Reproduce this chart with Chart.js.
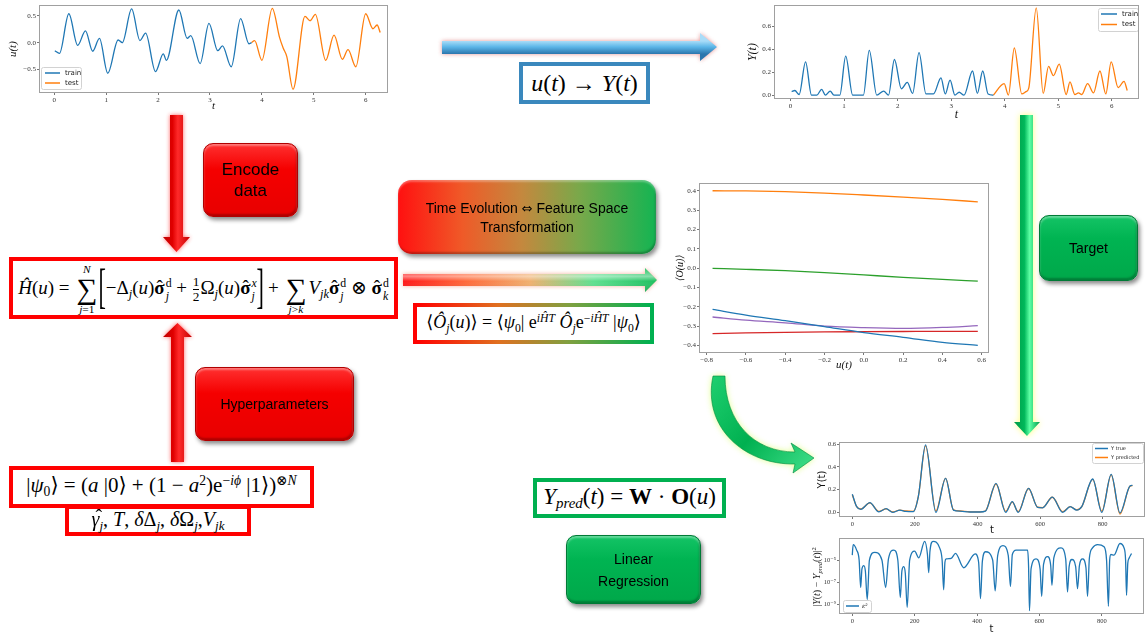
<!DOCTYPE html>
<html><head><meta charset="utf-8">
<script src="https://cdn.jsdelivr.net/npm/chart.js@4.4.1/dist/chart.umd.min.js"></script>
<style>
body{margin:0;width:1146px;height:637px;overflow:hidden;background:#fff;position:relative;font-family:'Liberation Sans',Arial,sans-serif}
.cv{position:absolute;left:0;top:0}
.abs{position:absolute;box-sizing:border-box}
.fbox{display:flex;align-items:center;justify-content:center;background:#fff}
.math{font-family:'Liberation Serif','DejaVu Serif',serif;color:#000;white-space:nowrap;line-height:1}
.s{font-size:0.65em;vertical-align:-0.3em}
sup{font-size:0.65em;vertical-align:0.55em;line-height:0}
sub{font-size:0.65em;vertical-align:-0.3em;line-height:0}
.ss{display:inline-flex;flex-direction:column;font-size:0.62em;line-height:1.1;vertical-align:0.62em;margin-left:1px}
.bop{display:inline-flex;flex-direction:column;align-items:center;vertical-align:middle;line-height:1;margin:0 2px}
.bop .lim{font-size:0.6em}
.bop .sig{font-size:1.55em;line-height:0.95}
.brk{font-size:2.6em;display:inline-block;transform:scaleX(0.45);vertical-align:-0.16em;line-height:1;margin:0 -5px}
.frac{display:inline-flex;flex-direction:column;align-items:center;font-size:0.7em;line-height:1.05;vertical-align:middle;margin:0 1px}
.frac .den{border-top:1px solid #000}
.hat{position:relative;display:inline-block}
.hat::after{content:'ˆ';position:absolute;left:0.12em;top:-0.08em;font-weight:normal;font-style:normal}
.hat.it::after{left:0.2em}
.btn{border-radius:10px;display:flex;align-items:center;justify-content:center;text-align:center;color:#000;font-family:'Liberation Sans',Arial,sans-serif}
.red{background:linear-gradient(#ff3030,#f50000 35%,#e80000);border:1px solid #b00000;box-shadow:2px 3px 4px rgba(0,0,0,.45),inset 0 2px 2px rgba(255,255,255,.35),inset -1px -2px 2px rgba(0,0,0,.25)}
.grn{background:linear-gradient(#14c466,#00b452 35%,#00a84a);border:1px solid #007a36;box-shadow:2px 3px 4px rgba(0,0,0,.45),inset 0 2px 2px rgba(255,255,255,.35),inset -1px -2px 2px rgba(0,0,0,.25)}
</style></head>
<body>
<canvas id="c1" class="cv" width="1146" height="637"></canvas>
<canvas id="c2" class="cv" width="1146" height="637"></canvas>
<canvas id="c3" class="cv" width="1146" height="637"></canvas>
<canvas id="c4" class="cv" width="1146" height="637"></canvas>
<canvas id="c5" class="cv" width="1146" height="637"></canvas>

<svg class="abs" width="1146" height="637" style="left:0;top:0">
<defs>
 <filter id="blur2" x="-50%" y="-50%" width="200%" height="200%"><feGaussianBlur stdDeviation="2.2"/></filter>
 <filter id="blur3" x="-50%" y="-50%" width="200%" height="200%"><feGaussianBlur stdDeviation="3"/></filter>
 <linearGradient id="gRedD" gradientUnits="userSpaceOnUse" x1="163" y1="0" x2="190" y2="0"><stop offset="0" stop-color="#c00000"/><stop offset="0.35" stop-color="#e00000"/><stop offset="0.55" stop-color="#ff2a2a"/><stop offset="1" stop-color="#c40000"/></linearGradient>
 <linearGradient id="gRedU" gradientUnits="userSpaceOnUse" x1="163" y1="0" x2="192" y2="0"><stop offset="0" stop-color="#c00000"/><stop offset="0.35" stop-color="#e00000"/><stop offset="0.55" stop-color="#ff2a2a"/><stop offset="1" stop-color="#c40000"/></linearGradient>
 <linearGradient id="gBlue" gradientUnits="userSpaceOnUse" x1="0" y1="41" x2="0" y2="54"><stop offset="0" stop-color="#a9dcf8"/><stop offset="0.45" stop-color="#5cb6e8"/><stop offset="1" stop-color="#2c76ad"/></linearGradient>
 <linearGradient id="gRG" gradientUnits="userSpaceOnUse" x1="403" y1="0" x2="657" y2="0"><stop offset="0" stop-color="#ff1a1a"/><stop offset="0.25" stop-color="#ff6a3a"/><stop offset="0.5" stop-color="#f0b070"/><stop offset="0.75" stop-color="#60e090"/><stop offset="1" stop-color="#20c060"/></linearGradient>
 <linearGradient id="gHi" gradientUnits="userSpaceOnUse" x1="0" y1="268" x2="0" y2="292"><stop offset="0" stop-color="#fff" stop-opacity="0"/><stop offset="0.35" stop-color="#fff" stop-opacity="0.45"/><stop offset="0.55" stop-color="#fff" stop-opacity="0"/><stop offset="1" stop-color="#000" stop-opacity="0.15"/></linearGradient>
 <linearGradient id="gGrn" gradientUnits="userSpaceOnUse" x1="1014" y1="0" x2="1040" y2="0"><stop offset="0" stop-color="#009a48"/><stop offset="0.4" stop-color="#00b85a"/><stop offset="0.6" stop-color="#5dffa4"/><stop offset="1" stop-color="#00a04c"/></linearGradient>
 <linearGradient id="gCurve" gradientUnits="userSpaceOnUse" x1="705" y1="380" x2="815" y2="470"><stop offset="0" stop-color="#20d070"/><stop offset="0.5" stop-color="#00b050"/><stop offset="1" stop-color="#40e08a"/></linearGradient>
</defs>
<polygon points="170,115 183,115 183,237 190,237 176.5,252 163,237 170,237" fill="#ff3030" opacity="0.75" filter="url(#blur2)"/>
<polygon points="170,115 183,115 183,237 190,237 176.5,252 163,237 170,237" fill="url(#gRedD)"/>
<polygon points="177.5,323 192,337 184,337 184,462 171,462 171,337 163,337" fill="#ff3030" opacity="0.75" filter="url(#blur2)"/>
<polygon points="177.5,323 192,337 184,337 184,462 171,462 171,337 163,337" fill="url(#gRedU)"/>
<polygon points="442,41 700,41 700,33 717,47 700,61 700,54 442,54" fill="#e07a7a" opacity="0.8" filter="url(#blur2)"/>
<polygon points="442,41 700,41 700,33 717,47 700,61 700,54 442,54" fill="url(#gBlue)"/>
<polygon points="403,274 645,274 645,268 657,280 645,292 645,286 403,286" fill="#f08060" opacity="0.6" filter="url(#blur2)"/>
<polygon points="403,274 645,274 645,268 657,280 645,292 645,286 403,286" fill="url(#gRG)"/>
<polygon points="403,274 645,274 645,268 657,280 645,292 645,286 403,286" fill="url(#gHi)"/>
<polygon points="1020,115 1033,115 1033,422 1040,422 1027,436 1014,422 1020,422" fill="#ffff70" opacity="0.9" filter="url(#blur3)"/>
<polygon points="1020,115 1033,115 1033,422 1040,422 1027,436 1014,422 1020,422" fill="url(#gGrn)"/>
<path d="M713,376 C702,428 745,465 795,464 L793,473 L814,458 L791,443 L795,452 C754,452 725,422 725,376 Z" fill="#d8ff70" opacity="0.85" filter="url(#blur3)"/>
<path d="M713,376 C702,428 745,465 795,464 L793,473 L814,458 L791,443 L795,452 C754,452 725,422 725,376 Z" fill="url(#gCurve)" stroke="#008a40" stroke-width="0.6"/>
</svg>

<div class="abs fbox" style="left:519px;top:62px;width:131px;height:42px;border:4px solid #3a88bd">
 <span class="math" style="font-size:24px"><i>u</i>(<i>t</i>) → <i>Y</i>(<i>t</i>)</span>
</div>
<div class="abs fbox" style="left:9px;top:257px;width:389px;height:62px;border:4px solid #ff0000">
 <span class="math" style="font-size:19px"><i>Ĥ</i>(<i>u</i>) = <span class="bop"><span class="lim"><i>N</i></span><span class="sig">∑</span><span class="lim"><i>j</i>=1</span></span><span class="brk">[</span>−Δ<i class="s">j</i>(<i>u</i>)<b class="hat">σ</b><span class="ss"><span>d</span><i>j</i></span> + <span class="frac"><span>1</span><span class="den">2</span></span>Ω<i class="s">j</i>(<i>u</i>)<b class="hat">σ</b><span class="ss"><i>x</i><i>j</i></span><span class="brk">]</span> + <span class="bop"><span class="lim">&#8203;</span><span class="sig">∑</span><span class="lim"><i>j</i>&gt;<i>k</i></span></span><i>V</i><i class="s">jk</i><b class="hat">σ</b><span class="ss"><span>d</span><i>j</i></span> ⊗ <b class="hat">σ</b><span class="ss"><span>d</span><i>k</i></span></span>
</div>
<div class="abs fbox" style="left:9px;top:466px;width:305px;height:42px;border:4px solid #ff0000">
 <span class="math" style="font-size:21px">|<i>ψ</i><span class="s">0</span>⟩ = (<i>a</i> |0⟩ + (1 − <i>a</i><sup>2</sup>)e<sup>−<i>iϕ</i></sup> |1⟩)<sup>⊗<i>N</i></sup></span>
</div>
<div class="abs fbox" style="left:65px;top:505px;width:186px;height:31px;border:4px solid #ff0000">
 <span class="math" style="font-size:20px"><i class="hat it">γ</i><i class="s">j</i>, <i>T</i>, <i>δ</i>Δ<i class="s">j</i>, <i>δ</i>Ω<i class="s">j</i>,<i>V</i><i class="s">jk</i></span>
</div>
<div class="abs fbox" style="left:413px;top:303px;width:241px;height:41px;border:4px solid;border-image:linear-gradient(to right,#ff0000,#e07020 35%,#80a040 65%,#00b050) 1">
 <span class="math" style="font-size:18px">⟨<i>Ô</i><i class="s">j</i>(<i>u</i>)⟩ = ⟨<i>ψ</i><span class="s">0</span>| e<sup><i>iĤT</i></sup> <i>Ô</i><i class="s">j</i>e<sup>−<i>iĤT</i></sup> |<i>ψ</i><span class="s">0</span>⟩</span>
</div>
<div class="abs fbox" style="left:533px;top:478px;width:193px;height:40px;border:4px solid #00b050">
 <span class="math" style="font-size:23px"><i>Y</i><i class="s">pred</i>(<i>t</i>) = <b>W</b> · <b>O</b>(<i>u</i>)</span>
</div>

<div class="abs btn red" style="left:203px;top:143px;width:95px;height:74px;font-size:17px;line-height:21px"><div>Encode<br>data</div></div>
<div class="abs btn red" style="left:195px;top:367px;width:159px;height:74px;font-size:14px"><div>Hyperparameters</div></div>
<div class="abs btn" style="left:398px;top:180px;width:258px;height:74px;font-size:14px;line-height:18px;border-radius:14px;background:linear-gradient(to right,#ff1010,#ef5a28 25%,#c4883e 48%,#7aa84a 70%,#14b452);box-shadow:2px 3px 4px rgba(0,0,0,.45),inset 0 2px 2px rgba(255,255,255,.3),inset -1px -2px 2px rgba(0,0,0,.25)"><div>Time Evolution <span style="font-family:'DejaVu Sans';font-size:13px">⇔</span> Feature Space<br>Transformation</div></div>
<div class="abs btn grn" style="left:1039px;top:215px;width:99px;height:66px;font-size:14px"><div>Target</div></div>
<div class="abs btn grn" style="left:566px;top:535px;width:135px;height:69px;font-size:14px;line-height:22px"><div>Linear<br>Regression</div></div>

<div class="abs math" style="left:817px;top:577px;transform:translate(-50%,-50%) rotate(-90deg);font-size:10px;color:#222">|<i>Y</i>(<i>t</i>) − <i>Y</i><sub><i>pred</i></sub>(<i>t</i>)|<sup>2</sup></div>

<script>
// ---------------- DATA ----------------
// Chart 1: input u(t)
const uTrainT = [0.01,0.1,0.28,0.45,0.6,0.74,0.87,1.03,1.23,1.31,1.49,1.65,1.76,1.95,2.1,2.16,2.4,2.56,2.63,2.81,2.98,3.15,3.24,3.41,3.59,3.75,3.8];
const uTrainV = [-0.15,-0.2,0.54,-0.05,0.22,-0.16,0.08,-0.57,0.05,0.0,0.63,0.04,0.18,-0.54,-0.21,-0.33,0.61,0.08,0.13,-0.39,0.36,-0.15,-0.06,-0.45,0.45,-0.02,0.0];
const uTestT = [3.8,3.86,4.0,4.2,4.34,4.41,4.48,4.6,4.83,4.93,5.03,5.23,5.39,5.55,5.66,5.81,6.0,6.14,6.22,6.28];
const uTestV = [0.0,0.04,-0.33,0.64,0.1,-0.1,-0.26,-0.87,0.49,0.41,0.53,-0.33,0.14,-0.31,-0.13,-0.45,0.54,0.26,0.33,0.19];
const c1XTicks = [0,1,2,3,4,5,6];
const c1XLabels = ['0','1','2','3','4','5','6'];
const c1YTicks = [-0.5,0,0.5];
const c1YLabels = ['−0.5','0.0','0.5'];

// Chart 2: target Y(t)
const yTrainT = [0.02,0.08,0.16,0.28,0.39,0.49,0.58,0.65,0.74,0.81,0.92,1.03,1.16,1.36,1.47,1.61,1.74,1.83,1.94,2.07,2.18,2.28,2.4,2.53,2.67,2.81,2.89,2.98,3.07,3.15,3.24,3.4,3.49,3.59,3.69,3.79];
const yTrainV = [0.03,0.04,0.005,0.29,0,0,0.05,0,0.035,0,0,0.34,0,0,0.39,0,0.035,0,0.31,0.055,0.11,0.015,0.37,0.01,0.01,0.15,0.01,0.13,0,0.025,0,0.21,0.015,0.21,0.01,0];
const yTestT = [3.79,3.99,4.07,4.18,4.32,4.4,4.45,4.59,4.72,4.82,4.91,5.02,5.15,5.22,5.31,5.38,5.44,5.55,5.66,5.78,5.89,5.99,6.12,6.23,6.29];
const yTestV = [0,0.1,0,0.41,0.01,0.03,0.06,0.76,0.015,0.25,0.17,0.27,0.005,0.115,0.005,0.02,0.005,0.1,0.02,0.21,0.01,0.29,0.065,0.12,0.04];
const c2XTicks = [0,1,2,3,4,5,6];
const c2XLabels = ['0','1','2','3','4','5','6'];
const c2YTicks = [0,0.2,0.4,0.6];
const c2YLabels = ['0.0','0.2','0.4','0.6'];

// Chart 3: observables vs u
const obsU = [-0.77,-0.6,-0.4,-0.2,0,0.2,0.4,0.58];
const obs1 = [-0.213,-0.242,-0.271,-0.302,-0.333,-0.357,-0.383,-0.399];
const obs2 = [0.400,0.399,0.395,0.388,0.378,0.367,0.355,0.343];
const obs3 = [-0.001,-0.006,-0.013,-0.023,-0.035,-0.047,-0.058,-0.067];
const obs4 = [-0.338,-0.334,-0.331,-0.329,-0.328,-0.327,-0.326,-0.326];
const obs5 = [-0.252,-0.268,-0.282,-0.299,-0.307,-0.311,-0.306,-0.297];
const c3XTicks = [-0.8,-0.6,-0.4,-0.2,0,0.2,0.4,0.6];
const c3XLabels = ['−0.8','−0.6','−0.4','−0.2','0.0','0.2','0.4','0.6'];
const c3YTicks = [-0.4,-0.3,-0.2,-0.1,0,0.1,0.2,0.3,0.4];
const c3YLabels = ['−0.4','−0.3','−0.2','−0.1','0.0','0.1','0.2','0.3','0.4'];

// Chart 4: prediction
const predT = [0,14,27,56,85,108,129,152,171,195,211,234,267,298,323,344,376,408,425,459,490,511,530,563,592,608,639,672,696,717,733,768,797,827,855,887,895];
const yTrue = [0.16,0.05,0.027,0.085,0.004,0.032,0.0,0.02,0.008,0.006,0.14,0.594,0.0,0.30,0.02,0.01,0.003,0.003,0.01,0.256,0.0,0.094,0.0,0.212,0.044,0.04,0.135,0.0,0.05,0.02,0.05,0.294,0.0,0.335,-0.005,0.232,0.238];
const yPred = [0.155,0.05,0.03,0.083,0.008,0.03,0.004,0.02,0.012,0.008,0.14,0.585,0.012,0.30,0.022,0.012,0.005,0.005,0.012,0.25,0.008,0.09,0.006,0.21,0.045,0.042,0.133,0.006,0.05,0.022,0.05,0.29,0.01,0.33,-0.015,0.23,0.235];
const c4XTicks = [0,200,400,600,800];
const c4XLabels = ['0','200','400','600','800'];
const c4YTicks = [0,0.2,0.4,0.6];
const c4YLabels = ['0.0','0.2','0.4','0.6'];

// Chart 5: squared error, stored as log10 of the value
const errT = [0,3,14,22,27,31,37,42,48,55,72,95,107,116,133,146,154,159,165,170,176,184,200,213,232,241,245,249,259,280,288,293,297,301,317,331,357,394,405,411,417,427,450,458,466,483,500,507,513,525,562,565,568,573,589,602,607,613,626,636,640,646,669,684,690,695,704,716,722,728,738,749,754,760,770,786,807,815,821,825,829,839,858,871,876,879,883,887,895];
const errLog = [-4.55,-3.6,-4.1,-5.0,-7.5,-5.8,-5.5,-6.0,-8.6,-5.0,-4.3,-5.0,-7.5,-4.9,-4.1,-5.0,-8.4,-6.0,-5.6,-6.2,-9.3,-5.0,-4.2,-4.8,-3.3,-4.5,-6.15,-4.2,-3.3,-3.9,-5.0,-7.7,-5.2,-4.9,-4.85,-4.4,-5.7,-4.45,-5.2,-8.5,-5.1,-4.25,-5.0,-7.8,-4.6,-3.7,-4.6,-7.4,-4.5,-4.1,-4.1,-5.5,-9.6,-5.8,-4.9,-5.8,-8.3,-5.4,-4.7,-5.5,-7.3,-4.8,-3.9,-4.9,-7.9,-5.6,-4.95,-5.6,-7.6,-5.5,-4.9,-5.7,-8.3,-4.8,-3.9,-3.6,-3.8,-5.0,-9.2,-5.0,-4.5,-4.55,-3.5,-3.9,-5.0,-8.2,-5.3,-4.85,-4.4];
const c5XTicks = [0,200,400,600,800];
const c5XLabels = ['0','200','400','600','800'];
const c5YTicks = [-9,-7,-5];
const c5YLabels = ['10⁻⁹','10⁻⁷','10⁻⁵'];

// ---------------- CHART HELPERS ----------------
const W = 1146, H = 637;
const C = {blue:'#1f77b4', orange:'#ff7f0e', green:'#2ca02c', red:'#d62728', purple:'#9467bd'};
const pts = (xs, ys) => xs.map((x, i) => ({x, y: ys[i]}));
const line = (label, xs, ys, color) => ({label, data: pts(xs, ys), borderColor: color, backgroundColor: color, borderWidth: 1.3, pointRadius: 0, cubicInterpolationMode: 'monotone', fill: false});

const framePlugin = {
  id: 'frame',
  afterDraw(chart) {
    const {ctx, chartArea: a} = chart;
    ctx.save(); ctx.strokeStyle = '#a0a0a0'; ctx.lineWidth = 1;
    ctx.strokeRect(Math.round(a.left) + 0.5, Math.round(a.top) + 0.5, Math.round(a.right - a.left) - 1, Math.round(a.bottom - a.top) - 1);
    ctx.restore();
  }
};
const mplLegend = {
  id: 'mplLegend',
  afterDraw(chart, args, o) {
    if (!o || !o.box) return;
    const ctx = chart.ctx; const [x, y, w, h] = o.box;
    ctx.save();
    ctx.fillStyle = 'rgba(255,255,255,0.85)'; ctx.strokeStyle = '#d2d2d2'; ctx.lineWidth = 1;
    ctx.beginPath(); if (ctx.roundRect) ctx.roundRect(x + 0.5, y + 0.5, w, h, 2); else ctx.rect(x + 0.5, y + 0.5, w, h);
    ctx.fill(); ctx.stroke();
    chart.data.datasets.forEach((ds, i) => {
      const ry = y + o.rows[i];
      ctx.strokeStyle = ds.borderColor; ctx.lineWidth = 1.5;
      ctx.beginPath(); ctx.moveTo(x + o.line[0], ry); ctx.lineTo(x + o.line[1], ry); ctx.stroke();
      ctx.fillStyle = '#222'; ctx.font = o.font; ctx.textBaseline = 'middle'; ctx.textAlign = 'left';
      ctx.fillText(ds.label, x + o.textX, ry);
    });
    ctx.restore();
  }
};
Chart.register(mplLegend);

function axis(range, ticks, labels, fitFn, tickFont, title) {
  return {
    type: 'linear', min: range[0], max: range[1],
    afterFit: fitFn,
    afterBuildTicks: s => { s.ticks = ticks.map(v => ({value: v})); },
    ticks: {callback: (v, i) => labels[i], font: tickFont, color: '#333', padding: 1, maxRotation: 0, autoSkip: false},
    grid: {display: true, drawOnChartArea: false, drawTicks: true, tickLength: 2, color: '#777'},
    border: {display: false},
    title: Object.assign({display: true, color: '#111', padding: 0}, title)
  };
}
function makeChart(id, c) {
  return new Chart(document.getElementById(id), {
    type: 'line',
    data: {datasets: c.datasets},
    options: {
      responsive: false, animation: false, events: [],
      layout: {padding: {left: c.plot.l - c.yw, top: c.plot.t, right: W - c.plot.r, bottom: H - c.plot.b - c.xh}},
      plugins: {legend: {display: false}, tooltip: {enabled: false}, mplLegend: c.legend || {}},
      scales: {
        x: axis(c.xr, c.xTicks, c.xLabels, s => { s.height = c.xh; }, c.tickFont, c.xTitle),
        y: axis(c.yr, c.yTicks, c.yLabels, s => { s.width = c.yw; }, c.tickFont, c.yTitle)
      }
    },
    plugins: [framePlugin]
  });
}
const serif = (size, style) => ({family: "'Liberation Serif','DejaVu Serif',serif", size, style: style || 'normal'});
const sans = (size) => ({family: "'DejaVu Sans','Liberation Sans',sans-serif", size});

makeChart('c1', {
  plot: {l: 39, t: 2, r: 388, b: 93}, yw: 32, xh: 20,
  xr: [-0.295, 6.43], yr: [-0.94, 0.70],
  xTicks: c1XTicks, xLabels: c1XLabels, yTicks: c1YTicks, yLabels: c1YLabels,
  tickFont: serif(7),
  xTitle: {text: 't', font: serif(11, 'italic')},
  yTitle: {text: 'u(t)', font: serif(11, 'italic')},
  datasets: [line('train', uTrainT, uTrainV, C.blue), line('test', uTestT, uTestV, C.orange)],
  legend: {box: [41, 67, 40, 22], rows: [6, 16], line: [4, 19], textX: 24, font: "7px 'DejaVu Sans'"}
});
makeChart('c2', {
  plot: {l: 774, t: 4, r: 1139, b: 99}, yw: 28, xh: 23,
  xr: [-0.31, 6.51], yr: [-0.034, 0.783],
  xTicks: c2XTicks, xLabels: c2XLabels, yTicks: c2YTicks, yLabels: c2YLabels,
  tickFont: serif(7),
  xTitle: {text: 't', font: serif(12, 'italic')},
  yTitle: {text: 'Y(t)', font: serif(12, 'italic')},
  datasets: [line('train', yTrainT, yTrainV, C.blue), line('test', yTestT, yTestV, C.orange)],
  legend: {box: [1098, 8, 40, 23], rows: [6, 16.5], line: [3, 19], textX: 24, font: "7px 'DejaVu Sans'"}
});
makeChart('c3', {
  plot: {l: 699, t: 183, r: 989, b: 353}, yw: 25, xh: 19,
  xr: [-0.839, 0.637], yr: [-0.438, 0.44],
  xTicks: c3XTicks, xLabels: c3XLabels, yTicks: c3YTicks, yLabels: c3YLabels,
  tickFont: serif(7),
  xTitle: {text: 'u(t)', font: serif(11, 'italic')},
  yTitle: {text: '⟨O(u)⟩', font: serif(10, 'italic')},
  datasets: [line('O1', obsU, obs1, C.blue), line('O2', obsU, obs2, C.orange), line('O3', obsU, obs3, C.green), line('O4', obsU, obs4, C.red), line('O5', obsU, obs5, C.purple)]
});
makeChart('c4', {
  plot: {l: 839, t: 442, r: 1145, b: 517}, yw: 23, xh: 19,
  xr: [-42.5, 935], yr: [-0.041, 0.62],
  xTicks: c4XTicks, xLabels: c4XLabels, yTicks: c4YTicks, yLabels: c4YLabels,
  tickFont: serif(6.5),
  xTitle: {text: 't', font: sans(10)},
  yTitle: {text: 'Y(t)', font: sans(10)},
  datasets: [line('Y true', predT, yTrue, C.blue), line('Y predicted', predT, yPred, C.orange)],
  legend: {box: [1092, 443, 51, 20], rows: [5.5, 14.5], line: [3, 16], textX: 19, font: "5px 'DejaVu Sans'"}
});
makeChart('c5', {
  plot: {l: 839, t: 538, r: 1144, b: 614}, yw: 27, xh: 21,
  xr: [-42.5, 935], yr: [-9.9, -3.0],
  xTicks: c5XTicks, xLabels: c5XLabels, yTicks: c5YTicks, yLabels: c5YLabels,
  tickFont: serif(6.5),
  xTitle: {text: 't', font: sans(10)},
  yTitle: {display: false, text: ''},
  datasets: [line('ε²', errT, errLog, C.blue)],
  legend: {box: [843, 600, 28, 12], rows: [6], line: [3, 16], textX: 19, font: "italic 6px 'DejaVu Serif'"}
});
</script>
</body></html>
